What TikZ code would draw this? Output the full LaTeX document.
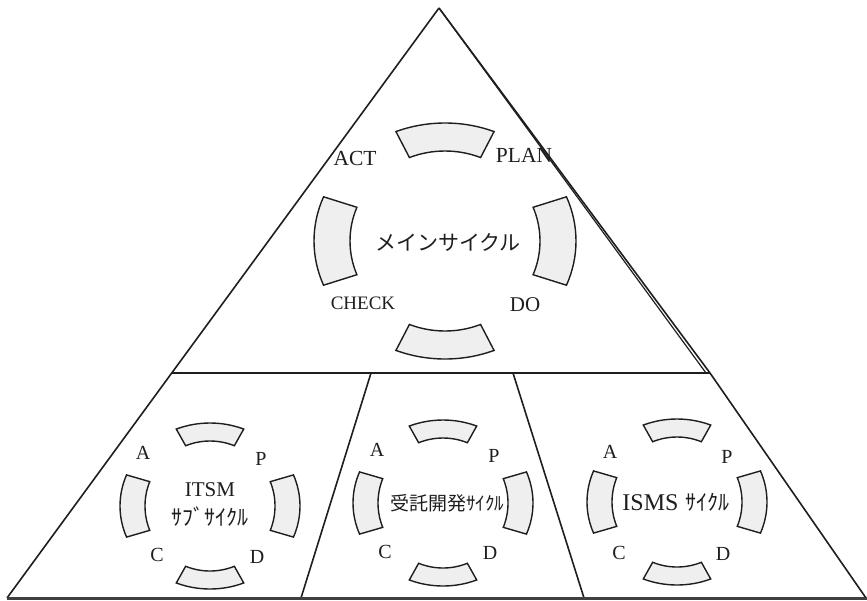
\documentclass[tikz,border=0pt]{standalone}
\usepackage{fontspec}
\setmainfont{Liberation Serif}
\newfontfamily\jp{Noto Sans CJK JP}
\definecolor{ink}{HTML}{1E1E1E}
\definecolor{secfill}{HTML}{EFEFEF}
\tikzset{
  edge/.style={draw=ink, line width=1.6pt},
  baseline/.style={draw=ink!85, line width=3pt},
  sectorbox/.style={draw=ink, line width=1.4pt, fill=secfill, line join=miter},
  lbl/.style={inner sep=0pt, text=ink},
}
\newcommand\pdcycle[6]{%
  \begin{scope}[shift={(#1,#2)}]
    \foreach \a in {0,90,180,270}{
      \draw[sectorbox] (\a-22:#3 and #4)
        arc[start angle=\a-22, end angle=\a+22, x radius=#3, y radius=#4]
        -- (\a+22:#5 and #6)
        arc[start angle=\a+22, end angle=\a-22, x radius=#5, y radius=#6]
        -- cycle;
    }
  \end{scope}}
\newcommand\fs[1]{\fontsize{#1}{#1}\selectfont}
\begin{document}
\begin{tikzpicture}[x=1pt, y=1pt]
  \useasboundingbox (0,0) rectangle (867,-600);
  % corner points
  \coordinate (apex) at (439,-8);
  \coordinate (bl) at (7,-598);
  \coordinate (br) at (866,-598);
  \coordinate (bend) at (867,-598);
  \coordinate (ml) at (172,-373);
  \coordinate (mr) at (710,-373);
  \coordinate (mr2) at (706,-373);
  \coordinate (d1t) at (371,-373);
  \coordinate (d1b) at (301,-598);
  \coordinate (d2t) at (513,-373);
  \coordinate (d2b) at (584,-598);
  % triangle lines
  \draw[edge] (apex) -- (bl);
  \draw[edge] (apex) -- (mr);
  \draw[edge, line width=1.2pt] (apex) -- (mr2);
  \draw[edge] (mr) -- (br);
  \draw[edge] (ml) -- (mr);
  \draw[edge] (d1t) -- (d1b);
  \draw[edge] (d2t) -- (d2b);
  \draw[baseline] (bl) -- (bend);
  % cycles
  \pdcycle{445}{-241}{131}{118}{95}{90}
  \pdcycle{210}{-506}{90}{83}{65}{65}
  \pdcycle{443}{-503}{90}{83}{65}{65}
  \pdcycle{677}{-502}{90}{83}{65}{65}
  % main labels
  \node[lbl, font=\fs{21.5}] (act) at (355,-158) {ACT};
  \node[lbl, font=\fs{21.5}] (plan) at (524,-155) {PLAN};
  \node[lbl, font=\fs{19}] (check) at (363,-303) {CHECK};
  \node[lbl, font=\fs{21}] (do) at (525,-305) {DO};
  \node[lbl, font=\jp\fs{21}] (main) at (448,-243) {メインサイクル};
  % ITSM
  \node[lbl, font=\fs{20}] (a1) at (143,-453) {A};
  \node[lbl, font=\fs{20}] (p1) at (261,-459) {P};
  \node[lbl, font=\fs{20}] (c1) at (157,-555) {C};
  \node[lbl, font=\fs{20}] (d1) at (257,-557) {D};
  \node[lbl, font=\fs{21}] (itsm) at (210,-490) {ITSM};
  \node[lbl, font=\jp\fs{22}] (itsmsub) at (210,-517) {ｻﾌﾞｻｲｸﾙ};
  % contract development
  \node[lbl, font=\fs{20}] (a2) at (377,-450) {A};
  \node[lbl, font=\fs{20}] (p2) at (494,-456) {P};
  \node[lbl, font=\fs{20}] (c2) at (385,-552) {C};
  \node[lbl, font=\fs{20}] (d2) at (490,-553) {D};
  \node[lbl, font=\jp\fs{19}] (dev) at (447,-503) {受託開発ｻｲｸﾙ};
  % ISMS
  \node[lbl, font=\fs{20}] (a3) at (610,-452) {A};
  \node[lbl, font=\fs{20}] (p3) at (727,-457) {P};
  \node[lbl, font=\fs{20}] (c3) at (619,-553) {C};
  \node[lbl, font=\fs{20}] (d3) at (723,-554) {D};
  \node[lbl] (isms) at (676,-502) {\fs{24}ISMS\hspace{7pt}\jp\fs{22}ｻｲｸﾙ};
\end{tikzpicture}
\end{document}
